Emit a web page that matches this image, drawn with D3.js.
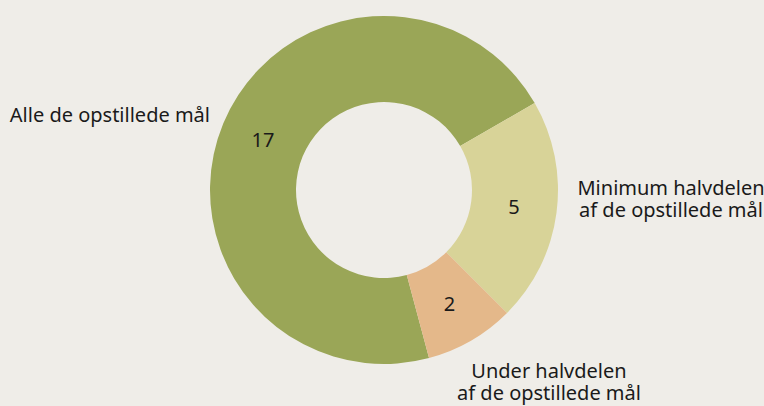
<!DOCTYPE html>
<html>
<head>
<meta charset="utf-8">
<script src="https://cdn.jsdelivr.net/npm/d3@7"></script>
<style>
  html, body { margin: 0; padding: 0; background: #efede8; }
  svg { display: block; }
  text { font-family: 'Noto Sans', sans-serif; fill: #1a1a1a; }
</style>
</head>
<body>
<svg width="764" height="406"></svg>
<script>
// data
let categories = ['Alle de opstillede mål', 'Minimum halvdelen af de opstillede mål', 'Under halvdelen af de opstillede mål']
let values = [17, 5, 2]
let labelLines = [
    ['Alle de opstillede mål'],
    ['Minimum halvdelen', 'af de opstillede mål'],
    ['Under halvdelen', 'af de opstillede mål']
]
let colors = ['#9aa657', '#d8d398', '#e4b88a']

let data = categories.map((c, i) => ({ name: c, value: values[i], lines: labelLines[i] }))

let cx = 384, cy = 190,
    innerRadius = 88,
    outerRadius = 174

let svg = d3.select('svg')
let g = svg.append('g').attr('transform', 'translate(' + cx + ',' + cy + ')')

let pie = d3.pie()
    .sort(null)
    .value(d => d.value)
    .startAngle(-195 * Math.PI / 180)
    .endAngle(165 * Math.PI / 180)

let slices = pie(data)
let arc = d3.arc().innerRadius(innerRadius).outerRadius(outerRadius)

g.selectAll('path.slice')
    .data(slices)
    .enter()
    .append('path')
    .attr('class', 'slice')
    .attr('d', arc)
    .attr('fill', (d, i) => colors[i])

// value labels at centroid
g.selectAll('text.value')
    .data(slices)
    .enter()
    .append('text')
    .attr('class', 'value')
    .text(d => d.data.value)
    .attr('x', d => arc.centroid(d)[0])
    .attr('y', d => arc.centroid(d)[1])
    .attr('dy', '0.36em')
    .attr('text-anchor', 'middle')
    .style('font-size', '20px')

// outside labels, placed by hand beside each slice
let labelPos = [
    { x: -174, y: -68, anchor: 'end' },
    { x: 287, y: 5, anchor: 'middle' },
    { x: 165, y: 188, anchor: 'middle' }
]

let outer = g.selectAll('text.name')
    .data(slices)
    .enter()
    .append('text')
    .attr('class', 'name')
    .attr('text-anchor', (d, i) => labelPos[i].anchor)
    .style('font-size', '20px')

outer.each(function(d, i) {
    let t = d3.select(this)
    d.data.lines.forEach((l, j) => {
        t.append('tspan')
            .attr('x', labelPos[i].x)
            .attr('y', labelPos[i].y + j * 22)
            .text(l)
    })
})
</script>
</body>
</html>
